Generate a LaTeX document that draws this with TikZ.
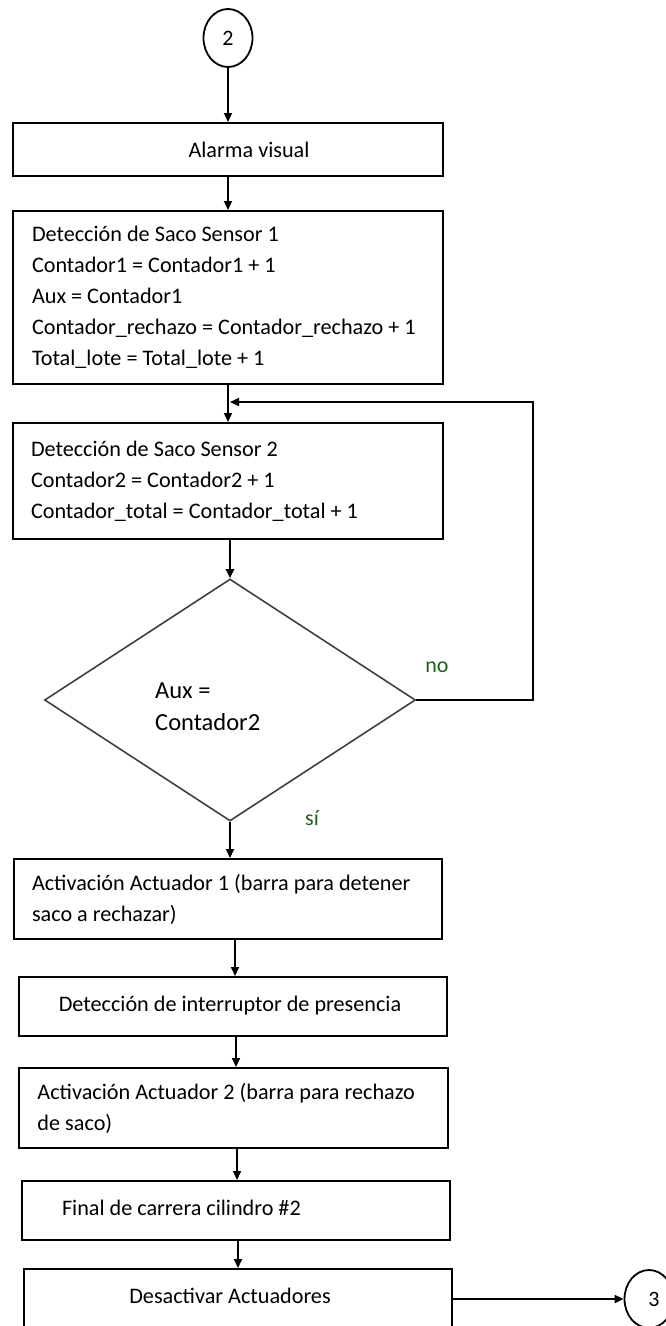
\documentclass[tikz,border=0pt]{standalone}
\usepackage{fontspec}
\setmainfont{Carlito}
\usetikzlibrary{shapes.geometric,arrows.meta}
\definecolor{lblcol}{RGB}{30,95,30}
\begin{document}
\begin{tikzpicture}[x=1pt,y=-1pt,
  box/.style={draw=black, line width=2pt, rectangle, inner sep=0pt,
    font=\fontsize{22.2}{31}\selectfont},
  txt/.style={align=flush left},
  conn/.style={draw=black, line width=1.8pt, ellipse, inner sep=0pt,
    minimum width=49pt, minimum height=58pt, font=\fontsize{22}{26}\selectfont},
  dec/.style={draw=black!75, line width=1.6pt, diamond, inner sep=0pt,
    minimum width=371pt, minimum height=242pt},
  dtxt/.style={align=flush left, inner sep=0pt, font=\fontsize{24.5}{32}\selectfont},
  lbl/.style={inner sep=0pt, text=lblcol, font=\fontsize{22}{26}\selectfont},
  arr/.style={line width=2pt, -{Triangle[length=9pt,width=8pt]}},
  line/.style={line width=2pt}]
\useasboundingbox (0,0) rectangle (666,1326);

\node[conn] (c2) at (228,38) {2};

\node[box, minimum width=430pt, minimum height=53pt] (b1) at (228,149.5)
  {\hspace*{42pt}Alarma visual};

\node[box, txt, text width=392pt, minimum width=430pt, minimum height=173pt] (b2) at (228,297.5)
  {Detección de Saco Sensor 1\\
   Contador1 = Contador1 + 1\\
   Aux = Contador1\\
   Contador\_rechazo = Contador\_rechazo + 1\\
   Total\_lote = Total\_lote + 1};

\node[box, txt, text width=394pt, minimum width=430pt, minimum height=116pt] (b3) at (228,481)
  {Detección de Saco Sensor 2\\
   Contador2 = Contador2 + 1\\
   Contador\_total = Contador\_total + 1};

\node[dec] (d) at (230,700) {};
\node[dtxt, anchor=north west] (dt) at (155,683) {Aux =\\Contador2};

\node[box, txt, text width=392pt, minimum width=428pt, minimum height=80pt] (b4) at (228,899)
  {Activación Actuador 1 (barra para detener\\ saco a rechazar)};

\node[box, minimum width=428pt, minimum height=59pt] (b5) at (233,1006.5)
  {\raisebox{6pt}{Detección de interruptor de presencia}\hspace*{6pt}};

\node[box, txt, text width=392pt, minimum width=429pt, minimum height=80pt] (b6) at (233.5,1108)
  {Activación Actuador 2 (barra para rechazo\\ de saco)};

\node[box, txt, text width=348pt, minimum width=428pt, minimum height=59pt] (b7) at (236,1210.5)
  {\raisebox{5pt}{Final de carrera cilindro \#2}};

\node[box, minimum width=428pt, minimum height=60pt] (b8) at (238,1299)
  {\raisebox{7pt}{Desactivar Actuadores}\hspace*{16pt}};

\node[conn] (c3) at (649,1299) {\hspace*{10pt}3};

\node[lbl] (no) at (437,667) {no};
\node[lbl] (si) at (312,818) {sí};

\coordinate (lj) at (230,402);

\draw[arr] (c2) -- (b1);
\draw[arr] (b1) -- (b2);
\draw[arr] (b2) -- (b3);
\draw[arr] (d.north |- b3.south) -- (d.north);
\draw[arr] (d.south) -- (d.south |- b4.north);
\draw[arr] ([xshift=2pt]b5.north |- b4.south) -- ([xshift=2pt]b5.north);
\draw[arr] ([xshift=3pt]b5.south) -- ([xshift=3pt]b5.south |- b6.north);
\draw[arr] ([xshift=1pt]b7.north |- b6.south) -- ([xshift=1pt]b7.north);
\draw[arr] ([xshift=2pt]b7.south) -- ([xshift=2pt]b7.south |- b8.north);
\draw[arr] (b8.east) -- (c3.west);
\draw[arr] (d.east) -- ++(117,0) |- (lj);
\end{tikzpicture}
\end{document}
